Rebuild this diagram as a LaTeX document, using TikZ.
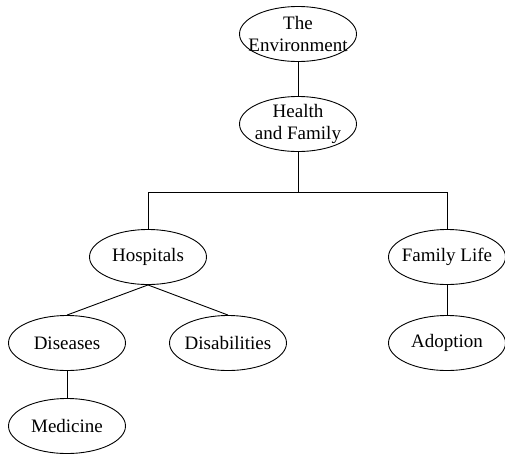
\documentclass[tikz,border=0pt]{standalone}
\usepackage{fontspec}
\setmainfont{Liberation Serif}
\usetikzlibrary{shapes.geometric}
\begin{document}
\begin{tikzpicture}[x=1pt,y=-1pt,
  topic/.style={ellipse,draw,line width=0.9pt,inner sep=0pt,
    minimum width=117pt,minimum height=55pt,
    label={[align=center,inner sep=0pt,
      font=\fontsize{19}{21.5}\selectfont]center:#1}},
  link/.style={line width=0.9pt}]
\useasboundingbox (0,0) rectangle (505,453);
\node[topic={The\\Environment}] (env) at (298,34) {};
\node[topic={Health\\and Family}] (health) at (298,124) {};
\node[topic={Hospitals}] (hosp) at (148,257) {};
\node[topic={Family Life}] (fam) at (447,257) {};
\node[topic={Diseases}] (dis) at (67,343) {};
\node[topic={Disabilities}] (disab) at (228,343) {};
\node[topic={Adoption}] (adopt) at (447,343) {};
\node[topic={Medicine}] (med) at (67,426) {};
\coordinate (split) at (298,192);
\draw[link] (env) -- (health);
\draw[link] (health) -- (split) -| (hosp);
\draw[link] (split) -| (fam);
\draw[link] (hosp.south) -- (dis.north);
\draw[link] (hosp.south) -- (disab.north);
\draw[link] (fam) -- (adopt);
\draw[link] (dis) -- (med);
\end{tikzpicture}
\end{document}
